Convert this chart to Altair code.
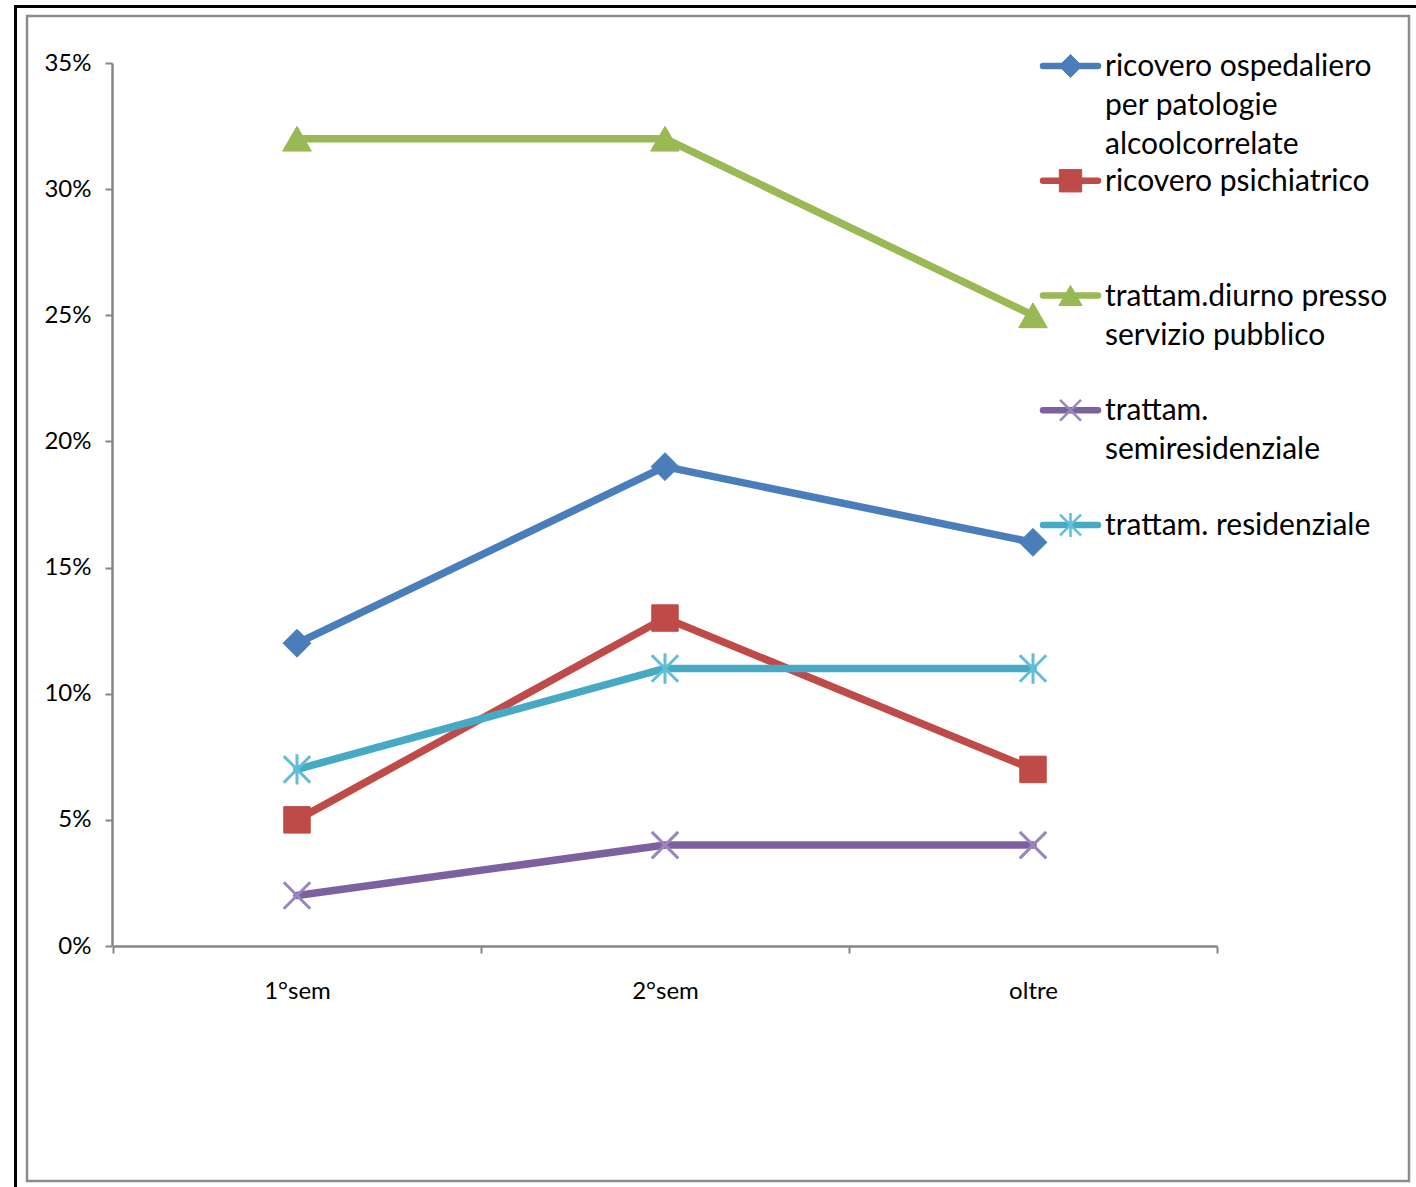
import altair as alt
import pandas as pd

categories = ["1°sem", "2°sem", "oltre"]
series = [
    "ricovero ospedaliero per patologie alcoolcorrelate",
    "ricovero psichiatrico",
    "trattam.diurno presso servizio pubblico",
    "trattam. semiresidenziale",
    "trattam. residenziale",
]
legend_labels = [
    "ricovero ospedaliero|per patologie|alcoolcorrelate",
    "ricovero psichiatrico",
    "trattam.diurno presso|servizio pubblico",
    "trattam.|semiresidenziale",
    "trattam. residenziale",
]
v_ospedaliero = [0.12, 0.19, 0.16]
v_psichiatrico = [0.05, 0.13, 0.07]
v_diurno = [0.32, 0.32, 0.25]
v_semires = [0.02, 0.04, 0.04]
v_res = [0.07, 0.11, 0.11]
all_values = [v_ospedaliero, v_psichiatrico, v_diurno, v_semires, v_res]
y_ticks = [0, 0.05, 0.10, 0.15, 0.20, 0.25, 0.30, 0.35]

line_colors = ["#4A7EBB", "#BE4B48", "#98B954", "#7D60A0", "#46AAC5"]
marker_colors = ["#4A7EBB", "#BE4B48", "#98B954", "#9A85BD", "#62BDD5"]
X_PATH = "M-1,-1L1,1M-1,1L1,-1"
AST_PATH = "M-1,-1L1,1M-1,1L1,-1M0,-1.15L0,1.15"
shapes = ["diamond", "square", "triangle-up", X_PATH, AST_PATH]
filled = [True, True, True, False, False]
plot_sizes = [780, 700, 820, 700, 700]
legend_sizes = [520, 500, 540, 440, 440]

W, H = 1104, 883

rows = []
for s, vals in zip(series, all_values):
    for c, v in zip(categories, vals):
        rows.append({"series": s, "cat": c, "value": v})
df = pd.DataFrame(rows)

leg = pd.DataFrame({
    "series": series,
    "label": legend_labels,
    "order": list(range(len(series))),
    "x0": [0.0] * 5,
    "xm": [0.5] * 5,
    "x1": [1.0] * 5,
})

FONT = "Lato"

xenc = alt.X("cat:N", sort=categories,
             scale=alt.Scale(domain=categories, paddingInner=0, paddingOuter=0, range=[1, 1105]),
             axis=alt.Axis(title=None, labelAngle=0, tickBand="extent", labelPadding=26,
                           labelFontSize=24, labelFont=FONT, labelColor="black",
                           domainColor="#868686", domainWidth=2.5, tickColor="#868686",
                           tickWidth=2, tickSize=7))
yenc = alt.Y("value:Q", scale=alt.Scale(domain=[0, 0.35], nice=False, zero=True),
             axis=alt.Axis(title=None, values=y_ticks, format=".0%", grid=False,
                           labelPadding=14, labelFontSize=24, labelFont=FONT, labelColor="black",
                           domainColor="#868686", domainWidth=2.5, tickColor="#868686",
                           tickWidth=2, tickSize=7))

main_layers = []
for i, s in enumerate(series):
    base = alt.Chart(df).transform_filter(alt.datum.series == s)
    main_layers.append(
        base.mark_line(color=line_colors[i], strokeWidth=7.5, strokeCap="round", strokeJoin="round")
        .encode(x=xenc, y=yenc)
    )
    if filled[i]:
        pt = base.mark_point(shape=shapes[i], filled=True, fill=marker_colors[i],
                             opacity=1, size=plot_sizes[i], stroke=marker_colors[i], strokeWidth=1)
    else:
        pt = base.mark_point(shape=shapes[i], filled=False, stroke=marker_colors[i],
                             opacity=1, size=plot_sizes[i], strokeWidth=3)
    main_layers.append(pt.encode(x=xenc, y=yenc))
main = alt.layer(*main_layers)

lx = alt.Scale(domain=[0, 1], range=[931, 986])
ly = alt.Scale(domain=[0, 4], range=[3, 462])
leg_layers = []
for i, s in enumerate(series):
    base = alt.Chart(leg).transform_filter(alt.datum.series == s)
    leg_layers.append(
        base.mark_rule(color=line_colors[i], strokeWidth=6.5, strokeCap="round")
        .encode(x=alt.X("x0:Q", scale=lx, axis=None), x2="x1:Q",
                y=alt.Y("order:Q", scale=ly, axis=None))
    )
    if filled[i]:
        pt = base.mark_point(shape=shapes[i], filled=True, fill=marker_colors[i], opacity=1,
                             size=legend_sizes[i], stroke=marker_colors[i], strokeWidth=1)
    else:
        pt = base.mark_point(shape=shapes[i], filled=False, stroke=marker_colors[i], opacity=1,
                             size=legend_sizes[i], strokeWidth=2.5)
    leg_layers.append(pt.encode(x=alt.X("xm:Q", scale=lx, axis=None),
                                y=alt.Y("order:Q", scale=ly, axis=None)))
leg_text = (
    alt.Chart(leg)
    .transform_calculate(lines="split(datum.label, '|')")
    .mark_text(align="left", baseline="alphabetic", dx=7, dy=10, font=FONT, fontSize=30,
               lineHeight=39, color="black")
    .encode(x=alt.X("x1:Q", scale=lx, axis=None), y=alt.Y("order:Q", scale=ly, axis=None),
            text="lines:N")
)
leg_layers.append(leg_text)
legend = alt.layer(*leg_layers)

one = pd.DataFrame({"a": [0]})
outer = alt.Chart(one).mark_rect(filled=False, stroke="black", strokeWidth=3).encode(
    x=alt.value(-96.5), x2=alt.value(1500), y=alt.value(-56.5), y2=alt.value(1400))
inner = alt.Chart(one).mark_rect(filled=False, stroke="#8C8C8C", strokeWidth=2.5).encode(
    x=alt.value(-85), x2=alt.value(1297), y=alt.value(-47), y2=alt.value(1118))

chart = (
    alt.layer(outer, inner, main, legend)
    .resolve_scale(x="independent", y="independent")
    .properties(width=W, height=H,
                padding={"left": 112, "top": 63, "right": 200, "bottom": 241},
                autosize=alt.AutoSizeParams(type="none"),
                background="white")
    .configure_view(stroke=None)
)

chart.save("out.html", embed_options={"renderer": "svg", "actions": False})
